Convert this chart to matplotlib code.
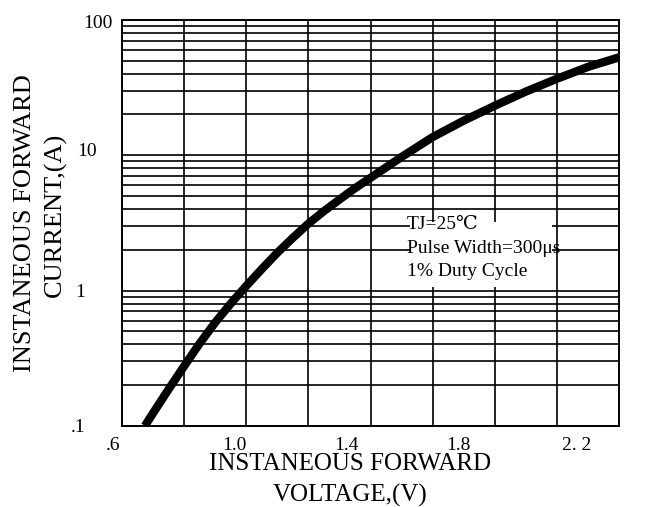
import matplotlib.pyplot as plt
import matplotlib.transforms as mtransforms
from matplotlib.patches import Rectangle
from matplotlib.ticker import LogLocator, NullFormatter

# forward voltage (V) vs instantaneous forward current (A)
voltage = [0.674, 0.7, 0.75, 0.8, 0.85, 0.9, 0.95, 1.0, 1.05, 1.1, 1.15, 1.2, 1.25,
           1.3, 1.35, 1.4, 1.5, 1.6, 1.7, 1.8, 1.9, 2.0, 2.1, 2.2]
current = [0.1, 0.124, 0.186, 0.276, 0.406, 0.58, 0.80, 1.08, 1.44, 1.9, 2.45, 3.12, 3.86,
           4.7, 5.7, 6.8, 9.7, 13.6, 18.0, 23.2, 29.5, 36.7, 44.9, 52.8]

x_ticks = [0.6, 1.0, 1.4, 1.8, 2.2]
x_tick_labels = ['.6', '1.0', '1.4', '1.8', '2. 2']
y_ticks = [100, 10, 1, 0.1]
y_tick_labels = ['100', '10', '1', '.1']
x_grid = [0.6, 0.8, 1.0, 1.2, 1.4, 1.6, 1.8, 2.0, 2.2]

note_lines = ['TJ=25\u2103', 'Pulse Width=300\u03bcs', '1% Duty Cycle']

plt.rcParams['font.family'] = ['Liberation Serif', 'DejaVu Serif', 'DejaVu Sans']

fig = plt.figure(figsize=(6.45, 5.07), dpi=100)
ax = fig.add_axes([0.189, 0.16, 0.771, 0.801])

ax.set_yscale('log')
ax.set_xlim(0.6, 2.2)
ax.set_ylim(0.1, 100)

# grid: every 0.2 V and all log minor lines
ax.set_xticks(x_grid, minor=True)
ax.yaxis.set_minor_locator(LogLocator(base=10, subs=range(2, 10)))
ax.yaxis.set_minor_formatter(NullFormatter())
ax.grid(True, which='both', color='black', linewidth=1.2)
ax.set_axisbelow(True)
for spine in ax.spines.values():
    spine.set_linewidth(1.4)

ax.set_xticks(x_ticks)
ax.set_xticklabels(x_tick_labels, fontsize=14)
ax.set_yticks(y_ticks)
ax.set_yticklabels(y_tick_labels, fontsize=14)
ax.tick_params(which='both', length=0)
ax.tick_params(axis='x', pad=8)
ax.tick_params(axis='y', pad=7)

# the original labels sit a bit off their grid lines, shift them by hand
x_shift_px = [-9, -12, -24, -36, -43]
for lab, dx in zip(ax.get_xticklabels(), x_shift_px):
    off = mtransforms.ScaledTranslation(dx / 100, 0, fig.dpi_scale_trans)
    lab.set_transform(lab.get_transform() + off)
y_shift_px = [(0, -2), (-15, 6), (-27, 0), (-27, 0)]
for lab, (dx, dy) in zip(ax.get_yticklabels(), y_shift_px):
    off = mtransforms.ScaledTranslation(dx / 100, dy / 100, fig.dpi_scale_trans)
    lab.set_transform(lab.get_transform() + off)

# white patch behind the note hides the horizontal lines
ax.add_patch(Rectangle((0.58, 0.343), 0.285, 0.16, transform=ax.transAxes,
                       facecolor='white', edgecolor='none', zorder=1.5))

ax.plot(voltage, current, color='black', linewidth=6, solid_capstyle='butt',
        solid_joinstyle='round', zorder=3)

for i, line in enumerate(note_lines):
    ax.text(0.573, 0.495 - i * 0.058, line, transform=ax.transAxes,
            fontsize=14, va='center', ha='left', zorder=4)

fig.text(350 / 645, 1 - 464 / 507, 'INSTANEOUS FORWARD', fontsize=18, ha='center', va='center')
fig.text(350 / 645, 1 - 495 / 507, 'VOLTAGE,(V)', fontsize=18, ha='center', va='center')
fig.text(25 / 645, 1 - 223 / 507, 'INSTANEOUS FORWARD', fontsize=19, rotation=90,
         ha='center', va='center')
fig.text(55 / 645, 1 - 215 / 507, 'CURRENT,(A)', fontsize=19, rotation=90,
         ha='center', va='center')

fig.savefig('out.png', dpi=100)
